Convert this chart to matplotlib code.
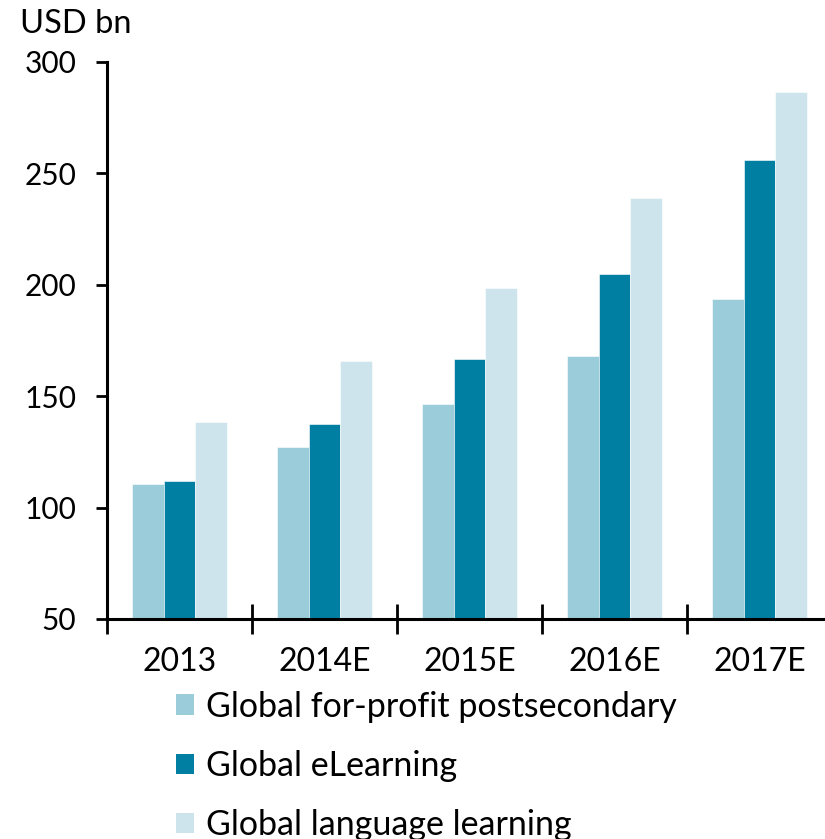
import matplotlib
matplotlib.use("Agg")
import matplotlib.pyplot as plt
import numpy as np
from matplotlib.patches import Patch

plt.rcParams['font.family'] = ['Lato', 'DejaVu Sans']

categories = ["2013", "2014E", "2015E", "2016E", "2017E"]
series_names = ["Global for-profit postsecondary", "Global eLearning", "Global language learning"]
postsecondary = [110.5, 127.2, 146.5, 168.0, 193.5]
elearning = [112.0, 137.5, 166.5, 204.8, 255.8]
language = [138.3, 165.8, 198.6, 238.8, 286.5]
colors = ["#9BCCDA", "#007FA3", "#CDE4EC"]

fig = plt.figure(figsize=(8.25, 8.39), dpi=100)
ax = fig.add_axes([107/825, 1 - 619/839, 725/825, (619 - 62)/839])

x = np.arange(len(categories))
w = 0.22
for i, (vals, c) in enumerate(zip([postsecondary, elearning, language], colors)):
    ax.bar(x + (i - 1) * w, np.array(vals) - 50, width=w, bottom=50, color=c,
           edgecolor="white", linewidth=0.4, zorder=2)

ax.set_ylim(50, 300)
ax.set_xlim(-0.5, 4.5)
ax.set_yticks([50, 100, 150, 200, 250, 300])
ax.set_xticks(x)
ax.set_xticklabels(categories)
ax.set_xticks(np.arange(-0.5, 5.0, 1.0), minor=True)

for s in ["top", "right"]:
    ax.spines[s].set_visible(False)
for s in ["left", "bottom"]:
    ax.spines[s].set_linewidth(2.2)
    ax.spines[s].set_color("black")

ax.tick_params(axis="y", direction="out", length=8, width=2, labelsize=21.5, pad=14)
ax.tick_params(axis="x", which="major", length=0, labelsize=23, pad=20)
ax.tick_params(axis="x", which="minor", direction="inout", length=22, width=2)

fig.text(20/825, 1 - 24/839, "USD bn", fontsize=23.5, va="center", ha="left")

handles = [Patch(facecolor=c, edgecolor="none") for c in colors]
fig.legend(handles, series_names, loc="upper left", bbox_to_anchor=(162/825, 1 - 677/839),
           frameon=False, fontsize=24.5, handlelength=0.55, handleheight=0.55,
           handletextpad=0.35, labelspacing=0.80, borderaxespad=0)

fig.savefig("out.png", dpi=100)
